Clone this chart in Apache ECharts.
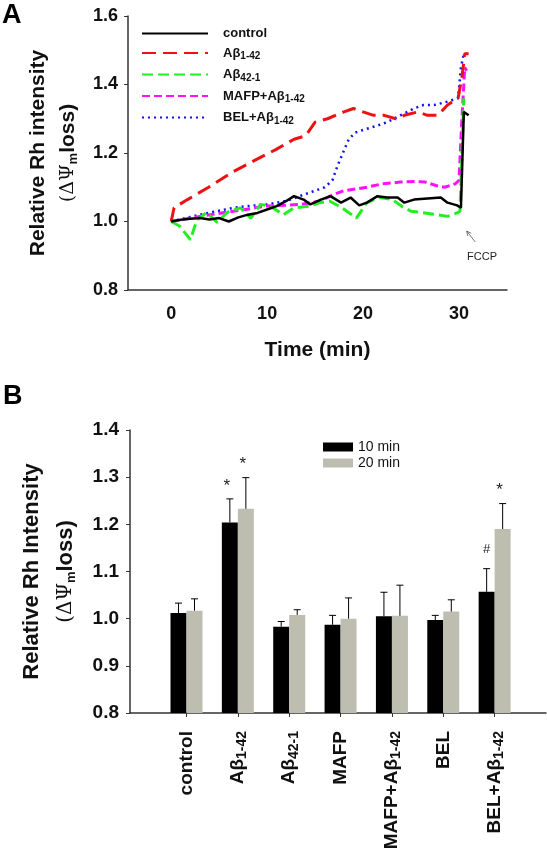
<!DOCTYPE html>
<html>
<head>
<meta charset="utf-8">
<script src="https://cdn.jsdelivr.net/npm/echarts@6/dist/echarts.min.js"></script>
<style>
html,body{margin:0;padding:0;background:#fff;}
#chart{width:547px;height:853px;}
</style>
</head>
<body>
<div id="chart"></div>
<script>
// ---------- Panel A data (time in min, relative intensity) ----------
const controlT = [0, 1, 2, 3, 4, 5, 6, 7, 8, 9, 10, 11, 12, 12.8, 13.8, 14.5, 15.6, 16.6, 17.7, 18.7, 19.6, 20.4, 21.5, 22.5, 23.6, 24.3, 25.3, 26.7, 28.1, 28.8, 29.8, 30.2, 30.5, 31.0];
const controlV = [1.0, 1.005, 1.008, 1.01, 1.006, 1.01, 1.0, 1.012, 1.02, 1.025, 1.035, 1.045, 1.06, 1.074, 1.064, 1.05, 1.064, 1.074, 1.055, 1.07, 1.047, 1.055, 1.074, 1.07, 1.07, 1.055, 1.064, 1.067, 1.07, 1.055, 1.047, 1.04, 1.32, 1.31];

const ab142T = [0, 0.3, 1.7, 3.9, 6.5, 8.8, 10.9, 12.8, 14, 15, 16.3, 18, 19, 20, 21.1, 22.2, 23.4, 24.3, 25.7, 26.7, 27.8, 28.8, 29.9, 30.3, 30.6, 31];
const ab142V = [1.0, 1.04, 1.064, 1.10, 1.146, 1.18, 1.21, 1.24, 1.25, 1.29, 1.30, 1.32, 1.33, 1.32, 1.31, 1.31, 1.30, 1.31, 1.32, 1.31, 1.31, 1.34, 1.36, 1.42, 1.49, 1.49];

const ab421T = [0, 0.9, 2, 2.7, 3.7, 4.8, 5.8, 7.2, 8.3, 9.3, 10.3, 11.7, 12.8, 14.4, 15.5, 16.5, 17.8, 19.3, 20.4, 21.7, 23, 24, 25, 26.2, 27.6, 28.8, 29.8, 30.1, 30.5];
const ab421V = [1.0, 0.986, 0.947, 1.006, 1.026, 0.997, 1.026, 1.04, 1.01, 1.05, 1.045, 1.02, 1.04, 1.045, 1.055, 1.06, 1.04, 1.01, 1.055, 1.07, 1.065, 1.045, 1.03, 1.026, 1.02, 1.015, 1.025, 1.03, 1.36];

const mafpT = [0, 3, 6.5, 10, 13.5, 15.6, 16.6, 18, 20.4, 22, 23.9, 25.5, 26.5, 27.6, 28.5, 29.6, 30.0, 30.3, 30.6, 30.8];
const mafpV = [1.0, 1.015, 1.03, 1.045, 1.05, 1.06, 1.075, 1.09, 1.10, 1.11, 1.115, 1.117, 1.115, 1.105, 1.10, 1.11, 1.12, 1.30, 1.45, 1.44];

const belT = [0, 3, 6.5, 8, 10, 12, 14, 15.4, 16, 16.8, 17.3, 17.9, 18.5, 19.2, 20.3, 21.5, 22.5, 23.9, 25.3, 26.3, 27.4, 28.8, 29.9, 30.2, 30.5, 30.8];
const belV = [1.0, 1.02, 1.04, 1.045, 1.05, 1.06, 1.08, 1.094, 1.10, 1.12, 1.16, 1.20, 1.24, 1.26, 1.27, 1.28, 1.29, 1.31, 1.33, 1.34, 1.34, 1.35, 1.36, 1.45, 1.49, 1.49];

const lineNames  = ['control', 'Aβ1-42', 'Aβ42-1', 'MAFP+Aβ1-42', 'BEL+Aβ1-42'];
const lineLabels = ['control', 'A\u03b2{sub|1-42}', 'A\u03b2{sub|42-1}', 'MAFP+A\u03b2{sub|1-42}', 'BEL+A\u03b2{sub|1-42}'];
const timeTicks = [0, 10, 20, 30];
const fccpText = [32.4, 0.895];
const fccpArrowFrom = [31.7, 0.94];
const fccpArrowTo = [30.8, 0.972];

// ---------- Panel B data ----------
const catIndex = [0, 1, 2, 3, 4, 5, 6];
const catLabels = ['control', 'A\u03b2{s|1-42}', 'A\u03b2{s|42-1}', 'MAFP', 'MAFP+A\u03b2{s|1-42}', 'BEL', 'BEL+A\u03b2{s|1-42}'];
const bar10 = [1.012, 1.204, 0.983, 0.987, 1.005, 0.997, 1.057];
const err10 = [0.021, 0.050, 0.011, 0.020, 0.051, 0.010, 0.049];
const bar20 = [1.017, 1.233, 1.008, 1.000, 1.006, 1.015, 1.190];
const err20 = [0.025, 0.066, 0.011, 0.044, 0.065, 0.025, 0.054];
const mark10 = ['', '*', '', '', '', '', '#'];
const mark20 = ['', '*', '', '', '', '', '*'];

const FONT = 'Liberation Sans, Arial, sans-serif';

function pairs(ts, vs) { return ts.map((t, i) => [t, vs[i]]); }

const chart = echarts.init(document.getElementById('chart'), null, {renderer: 'canvas'});

function lineSeries(idx, ts, vs, color, width, dash) {
  return {
    type: 'line', name: lineNames[idx], xAxisIndex: 0, yAxisIndex: 0,
    data: pairs(ts, vs), symbol: 'none', smooth: false,
    lineStyle: {color: color, width: width, type: dash},
    itemStyle: {color: color}, z: 5 - idx
  };
}

function errSeries(name, means, errs, marks, side) {
  return {
    type: 'custom', xAxisIndex: 1, yAxisIndex: 1, z: 10, silent: true,
    data: catIndex.map((c, i) => [c, means[i], means[i] + errs[i]]),
    renderItem: function (params, api) {
      const i = params.dataIndex;
      const base = api.coord([api.value(0), api.value(1)]);
      const top = api.coord([api.value(0), api.value(2)]);
      const x = base[0] + side * 8;
      const children = [
        {type: 'line', shape: {x1: x, y1: base[1], x2: x, y2: top[1]}, style: {stroke: '#000', lineWidth: 1}},
        {type: 'line', shape: {x1: x - 3.5, y1: top[1], x2: x + 3.5, y2: top[1]}, style: {stroke: '#000', lineWidth: 1}}
      ];
      if (marks[i]) {
        const isHash = marks[i] === '#';
        children.push({type: 'text', style: {text: marks[i], x: x - (isHash ? 0 : 3), y: top[1] - (isHash ? 19 : 13), align: 'center', verticalAlign: 'middle', font: (isHash ? 'normal 13px ' : 'normal 17px ') + FONT, fill: '#222'}});
      }
      return {type: 'group', children: children};
    }
  };
}

const option = {
  animation: false,
  backgroundColor: '#fff',
  graphic: [
    {type: 'text', left: 2, top: 2, style: {text: 'A', font: 'bold 27px ' + FONT, fill: '#000'}},
    {type: 'text', left: 3, top: 383, style: {text: 'B', font: 'bold 27px ' + FONT, fill: '#000'}}
  ],
  grid: [
    {left: 128, top: 16, width: 379, height: 274, outerBoundsMode: 'none'},
    {left: 130, top: 430, width: 416, height: 283, outerBoundsMode: 'none'}
  ],
  legend: [
    {
      data: lineNames, orient: 'vertical', left: 136, top: 22, itemWidth: 66, itemHeight: 14, itemGap: 6.5,
      itemStyle: {opacity: 0},
      formatter: function (name) { return lineLabels[lineNames.indexOf(name)]; },
      textStyle: {fontFamily: FONT, fontSize: 13, fontWeight: 'bold', color: '#111', padding: [0, 0, 0, 10],
        rich: {sub: {fontFamily: FONT, fontSize: 10, fontWeight: 'bold', color: '#111', padding: [7, 0, 0, 0]}}}
    },
    {
      data: ['10 min', '20 min'], orient: 'vertical', left: 318, top: 435, itemWidth: 30, itemHeight: 9, itemGap: 2,
      icon: 'rect',
      textStyle: {fontFamily: FONT, fontSize: 14, color: '#111'}
    }
  ],
  xAxis: [
    {
      type: 'value', gridIndex: 0, min: -4.5, max: 35,
      axisLine: {onZero: false, lineStyle: {color: '#333', width: 1.5}},
      axisTick: {show: false},
      splitLine: {show: false},
      axisLabel: {customValues: timeTicks, fontFamily: FONT, fontSize: 18, fontWeight: 'bold', color: '#111', margin: 15},
      name: 'Time (min)', nameLocation: 'middle', nameGap: 50,
      nameTextStyle: {fontFamily: FONT, fontSize: 21, fontWeight: 'bold', color: '#111'}
    },
    {
      type: 'value', gridIndex: 1, min: -1.1, max: 7,
      axisLine: {onZero: false, lineStyle: {color: '#333', width: 1.5}},
      axisTick: {customValues: catIndex, length: 4, lineStyle: {color: '#333'}},
      splitLine: {show: false},
      axisLabel: {customValues: catIndex, rotate: 90, margin: 18,
        formatter: function (v) { return catLabels[Math.round(v)]; },
        fontFamily: FONT, fontSize: 19, fontWeight: 'bold', color: '#111',
        rich: {s: {fontFamily: FONT, fontSize: 14, fontWeight: 'bold', color: '#111', padding: [9, 0, 0, 0]}}}
    }
  ],
  yAxis: [
    {
      type: 'value', gridIndex: 0, min: 0.8, max: 1.6, interval: 0.2,
      axisLine: {show: true, onZero: false, lineStyle: {color: '#333', width: 1.5}},
      axisTick: {show: true, length: 4, lineStyle: {color: '#333'}},
      splitLine: {show: false},
      axisLabel: {formatter: v => v.toFixed(1), fontFamily: FONT, fontSize: 18, fontWeight: 'bold', color: '#111', margin: 10},
      name: '{t|Relative Rh intensity}\n{g|(\u0394\u03a8}{s|m}{t|loss)}',
      nameLocation: 'middle', nameRotate: 90, nameGap: 45,
      nameTextStyle: {rich: {
        t: {fontFamily: FONT, fontSize: 21, fontWeight: 'bold', color: '#111', lineHeight: 30},
        g: {fontFamily: 'DejaVu Serif, serif', fontSize: 19, fontWeight: 'normal', color: '#111', lineHeight: 30},
        s: {fontFamily: FONT, fontSize: 13, fontWeight: 'bold', color: '#111', padding: [10, 0, 0, 0]}
      }}
    },
    {
      type: 'value', gridIndex: 1, min: 0.8, max: 1.4, interval: 0.1,
      axisLine: {show: true, onZero: false, lineStyle: {color: '#333', width: 1.5}},
      axisTick: {show: true, length: 4, lineStyle: {color: '#333'}},
      splitLine: {show: false},
      axisLabel: {formatter: v => v.toFixed(1), fontFamily: FONT, fontSize: 19, fontWeight: 'bold', color: '#111', margin: 11},
      name: '{t|Relative Rh Intensity}\n{g|(\u0394\u03a8}{s|m}{t|loss)}',
      nameLocation: 'middle', nameRotate: 90, nameGap: 47,
      nameTextStyle: {rich: {
        t: {fontFamily: FONT, fontSize: 22, fontWeight: 'bold', color: '#111', lineHeight: 34},
        g: {fontFamily: 'DejaVu Serif, serif', fontSize: 20, fontWeight: 'normal', color: '#111', lineHeight: 34},
        s: {fontFamily: FONT, fontSize: 13, fontWeight: 'bold', color: '#111', padding: [10, 0, 0, 0]}
      }}
    }
  ],
  series: [
    lineSeries(0, controlT, controlV, '#000000', 2.5, 'solid'),
    lineSeries(1, ab142T, ab142V, '#ee1111', 3, [14, 7]),
    lineSeries(2, ab421T, ab421V, '#22ee22', 3, [11, 5]),
    lineSeries(3, mafpT, mafpV, '#ff11ff', 3, [8, 4]),
    lineSeries(4, belT, belV, '#1111ee', 2.5, [2, 4]),
    {
      type: 'custom', xAxisIndex: 0, yAxisIndex: 0, silent: true, z: 20,
      data: [[fccpText[0], fccpText[1], fccpArrowFrom[0], fccpArrowFrom[1], fccpArrowTo[0], fccpArrowTo[1]]],
      renderItem: function (params, api) {
        const tp = api.coord([api.value(0), api.value(1)]);
        const a = api.coord([api.value(2), api.value(3)]);
        const b = api.coord([api.value(4), api.value(5)]);
        const ang = Math.atan2(b[1] - a[1], b[0] - a[0]);
        const h = 5, sp = 0.45;
        return {type: 'group', children: [
          {type: 'text', style: {text: 'FCCP', x: tp[0], y: tp[1], align: 'center', verticalAlign: 'middle', font: 'normal 11px ' + FONT, fill: '#222'}},
          {type: 'line', shape: {x1: a[0], y1: a[1], x2: b[0], y2: b[1]}, style: {stroke: '#555', lineWidth: 0.8}},
          {type: 'polyline', shape: {points: [
            [b[0] - h * Math.cos(ang - sp), b[1] - h * Math.sin(ang - sp)], [b[0], b[1]],
            [b[0] - h * Math.cos(ang + sp), b[1] - h * Math.sin(ang + sp)]]}, style: {stroke: '#555', lineWidth: 0.8, fill: null}}
        ]};
      }
    },
    {
      type: 'bar', name: '10 min', xAxisIndex: 1, yAxisIndex: 1,
      data: catIndex.map((c, i) => [c, bar10[i]]), barWidth: 16, barGap: '0%',
      itemStyle: {color: '#000000'}
    },
    {
      type: 'bar', name: '20 min', xAxisIndex: 1, yAxisIndex: 1,
      data: catIndex.map((c, i) => [c, bar20[i]]), barWidth: 16, barGap: '0%',
      itemStyle: {color: '#bdbdb0'}
    },
    errSeries('err10', bar10, err10, mark10, -1),
    errSeries('err20', bar20, err20, mark20, 1)
  ]
};
chart.setOption(option);
</script>
</body>
</html>
